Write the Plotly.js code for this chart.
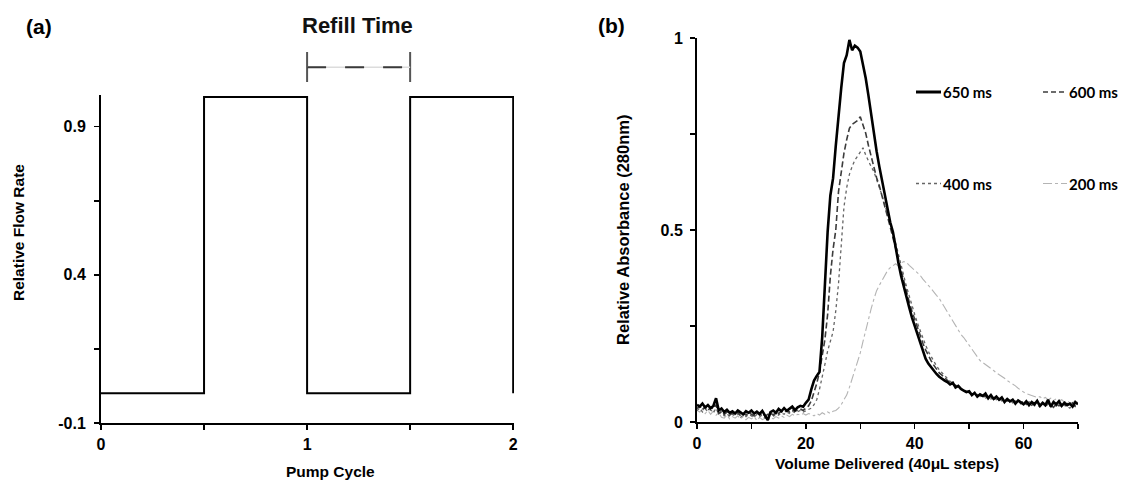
<!DOCTYPE html>
<html>
<head>
<meta charset="utf-8">
<script src="https://cdn.plot.ly/plotly-3.0.1.min.js"></script>
<style>html,body{margin:0;padding:0;background:#fff;}#chart{width:1121px;height:482px;}</style>
</head>
<body>
<div id="chart"></div>
<script>
// ---- Panel (a): pump cycle square wave ----
const cycle = [0, 0.5, 0.5, 1, 1, 1.5, 1.5, 2, 2];
const flow  = [0, 0, 1, 1, 0, 0, 1, 1, 0];
const flowTickVals = [-0.1, 0.15, 0.4, 0.65, 0.9];
const flowTickText = ['-0.1', '', '0.4', '', '0.9'];
const cycleTickVals = [0, 0.5, 1, 1.5, 2];
const cycleTickText = ['0', '', '1', '', '2'];
const refillStart = 1;
const refillEnd = 1.5;

// ---- Panel (b): absorbance vs volume delivered ----
const volume = [
 0,0.5,1,1.5,2,2.5,3,3.5,4,4.5,
 5,5.5,6,6.5,7,7.5,8,8.5,9,9.5,
 10,10.5,11,11.5,12,12.5,13,13.5,14,14.5,
 15,15.5,16,16.5,17,17.5,18,18.5,19,19.5,
 20,20.5,21,21.5,22,22.5,23,23.5,24,24.5,
 25,25.5,26,26.5,27,27.5,28,28.5,29,29.5,
 30,30.5,31,31.5,32,32.5,33,33.5,34,34.5,
 35,35.5,36,36.5,37,37.5,38,38.5,39,39.5,
 40,40.5,41,41.5,42,42.5,43,43.5,44,44.5,
 45,45.5,46,46.5,47,47.5,48,48.5,49,49.5,
 50,50.5,51,51.5,52,52.5,53,53.5,54,54.5,
 55,55.5,56,56.5,57,57.5,58,58.5,59,59.5,
 60,60.5,61,61.5,62,62.5,63,63.5,64,64.5,
 65,65.5,66,66.5,67,67.5,68,68.5,69,69.5,
 70];
const abs650 = [
 0.045,0.040,0.048,0.038,0.044,0.036,0.042,0.062,0.030,0.035,
 0.026,0.032,0.024,0.028,0.022,0.030,0.025,0.020,0.028,0.024,
 0.030,0.022,0.027,0.021,0.029,0.018,0.005,0.026,0.030,0.024,
 0.034,0.028,0.036,0.029,0.034,0.040,0.031,0.038,0.042,0.040,
 0.050,0.058,0.085,0.108,0.120,0.130,0.220,0.360,0.495,0.590,
 0.635,0.720,0.800,0.870,0.935,0.955,0.995,0.968,0.980,0.975,
 0.965,0.930,0.895,0.850,0.800,0.755,0.705,0.665,0.630,0.590,
 0.555,0.520,0.495,0.450,0.415,0.380,0.350,0.322,0.298,0.272,
 0.250,0.225,0.205,0.185,0.165,0.152,0.142,0.135,0.125,0.118,
 0.112,0.108,0.104,0.098,0.102,0.090,0.094,0.086,0.082,0.078,
 0.080,0.070,0.076,0.066,0.072,0.068,0.074,0.062,0.070,0.060,
 0.066,0.058,0.064,0.052,0.060,0.054,0.058,0.048,0.056,0.050,
 0.046,0.054,0.044,0.052,0.046,0.055,0.042,0.050,0.044,0.058,
 0.040,0.052,0.046,0.054,0.042,0.050,0.044,0.048,0.040,0.052,
 0.046];
const abs600 = [
 0.035,0.042,0.032,0.040,0.030,0.038,0.034,0.045,0.022,0.028,
 0.020,0.026,0.018,0.024,0.020,0.026,0.016,0.022,0.018,0.025,
 0.020,0.016,0.024,0.018,0.022,0.015,0.020,0.024,0.018,0.026,
 0.022,0.028,0.024,0.030,0.026,0.032,0.028,0.030,0.034,0.030,
 0.036,0.042,0.055,0.075,0.100,0.130,0.170,0.215,0.280,0.380,
 0.450,0.500,0.600,0.655,0.700,0.735,0.765,0.775,0.780,0.785,
 0.795,0.772,0.752,0.720,0.690,0.662,0.636,0.615,0.590,0.562,
 0.535,0.508,0.480,0.455,0.425,0.395,0.365,0.338,0.312,0.288,
 0.266,0.245,0.225,0.205,0.188,0.172,0.160,0.148,0.138,0.128,
 0.122,0.115,0.108,0.102,0.098,0.094,0.090,0.085,0.082,0.080,
 0.076,0.072,0.074,0.068,0.070,0.064,0.068,0.062,0.066,0.060,
 0.063,0.058,0.062,0.056,0.060,0.052,0.058,0.050,0.056,0.048,
 0.054,0.046,0.052,0.044,0.050,0.046,0.040,0.048,0.042,0.050,
 0.044,0.038,0.048,0.042,0.046,0.040,0.048,0.044,0.050,0.042,
 0.046];
const abs400 = [
 0.030,0.036,0.026,0.034,0.028,0.032,0.024,0.036,0.020,0.026,
 0.016,0.022,0.014,0.020,0.016,0.022,0.012,0.018,0.014,0.020,
 0.016,0.012,0.020,0.014,0.018,0.010,0.016,0.020,0.014,0.022,
 0.018,0.024,0.020,0.026,0.022,0.028,0.024,0.027,0.030,0.026,
 0.030,0.032,0.036,0.045,0.058,0.085,0.115,0.150,0.185,0.210,
 0.235,0.290,0.360,0.460,0.560,0.610,0.645,0.665,0.682,0.692,
 0.702,0.714,0.695,0.678,0.665,0.652,0.632,0.612,0.590,0.565,
 0.545,0.520,0.495,0.468,0.440,0.410,0.380,0.352,0.326,0.302,
 0.280,0.258,0.238,0.218,0.200,0.184,0.170,0.158,0.146,0.136,
 0.128,0.120,0.113,0.106,0.101,0.096,0.092,0.087,0.084,0.080,
 0.078,0.074,0.070,0.072,0.066,0.068,0.062,0.066,0.060,0.063,
 0.058,0.061,0.055,0.059,0.054,0.057,0.050,0.055,0.048,0.053,
 0.046,0.051,0.044,0.050,0.042,0.048,0.044,0.050,0.040,0.046,
 0.038,0.045,0.041,0.047,0.039,0.046,0.042,0.036,0.044,0.040,
 0.045];
const abs200 = [
 0.030,0.026,0.034,0.022,0.030,0.020,0.028,0.018,0.024,0.012,
 0.010,0.018,0.008,0.014,0.010,0.016,0.008,0.014,0.006,0.012,
 0.008,0.014,0.004,0.012,0.006,0.010,0.004,0.012,0.008,0.014,
 0.010,0.016,0.012,0.018,0.014,0.020,0.016,0.020,0.018,0.022,
 0.018,0.022,0.020,0.016,0.022,0.018,0.024,0.020,0.026,0.022,
 0.028,0.030,0.036,0.045,0.058,0.070,0.090,0.112,0.135,0.155,
 0.180,0.210,0.240,0.265,0.295,0.320,0.342,0.356,0.370,0.382,
 0.394,0.402,0.408,0.412,0.406,0.414,0.418,0.415,0.408,0.402,
 0.396,0.390,0.382,0.372,0.365,0.356,0.348,0.338,0.330,0.322,
 0.310,0.300,0.288,0.276,0.262,0.252,0.240,0.228,0.220,0.210,
 0.198,0.188,0.180,0.170,0.160,0.155,0.150,0.146,0.140,0.134,
 0.128,0.124,0.120,0.114,0.108,0.104,0.098,0.094,0.088,0.082,
 0.078,0.074,0.072,0.068,0.066,0.064,0.066,0.060,0.064,0.058,
 0.062,0.056,0.060,0.054,0.058,0.052,0.056,0.050,0.054,0.048,
 0.052];
const seriesNames = ['650 ms', '600 ms', '400 ms', '200 ms'];
const absTickVals = [0, 0.25, 0.5, 0.75, 1];
const absTickText = ['0', '', '0.5', '', '1'];
const volTickVals = [0, 10, 20, 30, 40, 50, 60, 70];
const volTickText = ['0', '', '20', '', '40', '', '60', ''];

const ARIAL = 'Liberation Sans, Arial, Helvetica, sans-serif';
const CAL = 'Lato, Carlito, Calibri, sans-serif';

const W = 1121, H = 482;
const px = v => v / W;
const py = v => (H - v) / H;

const styles = {
  '650 ms': {color: '#000000', width: 2.6, dash: 'solid'},
  '600 ms': {color: '#3c3c3c', width: 1.6, dash: '6px,3px'},
  '400 ms': {color: '#666666', width: 1.3, dash: 'dot'},
  '200 ms': {color: '#b4b4b4', width: 1.1, dash: 'dashdot'}
};
const seriesData = {'650 ms': abs650, '600 ms': abs600, '400 ms': abs400, '200 ms': abs200};

const traces = [{
  x: cycle, y: flow, xaxis: 'x', yaxis: 'y', type: 'scatter', mode: 'lines',
  line: {color: '#000', width: 2}, showlegend: false, hoverinfo: 'skip'
}];
['200 ms', '400 ms', '600 ms', '650 ms'].forEach(n => {
  traces.push({
    x: volume, y: seriesData[n], xaxis: 'x2', yaxis: 'y2', type: 'scatter', mode: 'lines',
    name: n, line: styles[n], showlegend: false, hoverinfo: 'skip'
  });
});

const tf = {family: ARIAL, size: 16, color: '#000', weight: 700};
const lf = {family: CAL, size: 15, color: '#000', weight: 700};
const layout = {
  width: W, height: H,
  margin: {l: 0, r: 0, t: 0, b: 0},
  paper_bgcolor: '#fff', plot_bgcolor: '#fff',
  showlegend: false,
  xaxis: {
    domain: [px(101), px(514)], range: [0, 2.004], anchor: 'y',
    showline: true, linecolor: '#000', linewidth: 2, showgrid: false, zeroline: false,
    ticks: 'outside', ticklen: 5, tickwidth: 1.5, tickcolor: '#000',
    tickvals: cycleTickVals, ticktext: cycleTickText, tickfont: tf, ticklabelstandoff: 1
  },
  yaxis: {
    domain: [py(423), py(95)], range: [-0.1, 1.007], anchor: 'x',
    showline: true, linecolor: '#000', linewidth: 2, showgrid: false, zeroline: false,
    ticks: 'outside', ticklen: 5, tickwidth: 1.5, tickcolor: '#000',
    tickvals: flowTickVals, ticktext: flowTickText, tickfont: tf, ticklabelstandoff: 5
  },
  xaxis2: {
    domain: [px(697), px(1078)], range: [0, 70], anchor: 'y2',
    showline: true, linecolor: '#000', linewidth: 2, showgrid: false, zeroline: false,
    ticks: 'outside', ticklen: 5, tickwidth: 1.5, tickcolor: '#000',
    tickvals: volTickVals, ticktext: volTickText, tickfont: tf, ticklabelstandoff: 1
  },
  yaxis2: {
    domain: [py(422), py(38)], range: [0, 1], anchor: 'x2',
    showline: true, linecolor: '#000', linewidth: 2, showgrid: false, zeroline: false,
    ticks: 'outside', ticklen: 5, tickwidth: 1.5, tickcolor: '#000',
    tickvals: absTickVals, ticktext: absTickText, tickfont: tf, ticklabelstandoff: 4
  },
  shapes: [
    // Refill time bracket
    {type: 'line', xref: 'x', yref: 'paper', x0: refillStart, x1: refillStart, y0: py(82), y1: py(52), line: {color: '#555', width: 2}},
    {type: 'line', xref: 'x', yref: 'paper', x0: refillEnd, x1: refillEnd, y0: py(82), y1: py(52), line: {color: '#555', width: 2}},
    {type: 'line', xref: 'x', yref: 'paper', x0: refillStart, x1: refillEnd, y0: py(67.3), y1: py(67.3), line: {color: '#dcdcdc', width: 1.5}},
    {type: 'line', xref: 'x', yref: 'paper', x0: refillStart, x1: refillEnd, y0: py(67.3), y1: py(67.3), line: {color: '#3a3a3a', width: 2, dash: '19px,19px'}},
    // Legend swatches
    {type: 'line', xref: 'paper', yref: 'paper', x0: px(916), x1: px(941), y0: py(92), y1: py(92), line: {color: '#000', width: 3}},
    {type: 'line', xref: 'paper', yref: 'paper', x0: px(1043), x1: px(1067), y0: py(92), y1: py(92), line: {color: '#3c3c3c', width: 1.6, dash: '5px,3px'}},
    {type: 'line', xref: 'paper', yref: 'paper', x0: px(916), x1: px(941), y0: py(183.5), y1: py(183.5), line: {color: '#666', width: 1.4, dash: 'dot'}},
    {type: 'line', xref: 'paper', yref: 'paper', x0: px(1043), x1: px(1067), y0: py(183.5), y1: py(183.5), line: {color: '#b4b4b4', width: 1.2, dash: 'dashdot'}}
  ],
  annotations: [
    {text: '(a)', xref: 'paper', yref: 'paper', x: px(38.5), y: py(26), xanchor: 'center', yanchor: 'middle', showarrow: false, font: {family: ARIAL, size: 21, color: '#000', weight: 700}},
    {text: '(b)', xref: 'paper', yref: 'paper', x: px(611), y: py(25), xanchor: 'center', yanchor: 'middle', showarrow: false, font: {family: ARIAL, size: 21, color: '#000', weight: 700}},
    {text: 'Refill Time', xref: 'paper', yref: 'paper', x: px(357), y: py(25), xanchor: 'center', yanchor: 'middle', showarrow: false, font: {family: ARIAL, size: 22, color: '#111', weight: 700}},
    {text: 'Relative Flow Rate', xref: 'paper', yref: 'paper', x: px(19), y: py(233), xanchor: 'center', yanchor: 'middle', textangle: -90, showarrow: false, font: {family: ARIAL, size: 15.5, color: '#000', weight: 700}},
    {text: 'Pump Cycle', xref: 'paper', yref: 'paper', x: px(330), y: 0, xanchor: 'center', yanchor: 'bottom', showarrow: false, font: {family: ARIAL, size: 15.5, color: '#000', weight: 700}},
    {text: 'Relative Absorbance (280nm)', xref: 'paper', yref: 'paper', x: px(623), y: py(230), xanchor: 'center', yanchor: 'middle', textangle: -90, showarrow: false, font: {family: ARIAL, size: 16.5, color: '#000', weight: 700}},
    {text: 'Volume Delivered (40μL steps)', xref: 'paper', yref: 'paper', x: px(887), y: py(463), xanchor: 'center', yanchor: 'middle', showarrow: false, font: {family: ARIAL, size: 15.5, color: '#000', weight: 700}},
    {text: seriesNames[0], xref: 'paper', yref: 'paper', x: px(941), y: py(92), xanchor: 'left', yanchor: 'middle', showarrow: false, font: lf},
    {text: seriesNames[1], xref: 'paper', yref: 'paper', x: px(1067), y: py(92), xanchor: 'left', yanchor: 'middle', showarrow: false, font: lf},
    {text: seriesNames[2], xref: 'paper', yref: 'paper', x: px(941), y: py(183.5), xanchor: 'left', yanchor: 'middle', showarrow: false, font: lf},
    {text: seriesNames[3], xref: 'paper', yref: 'paper', x: px(1067), y: py(183.5), xanchor: 'left', yanchor: 'middle', showarrow: false, font: lf}
  ]
};

Plotly.newPlot('chart', traces, layout, {staticPlot: true, displayModeBar: false});
</script>
</body>
</html>
